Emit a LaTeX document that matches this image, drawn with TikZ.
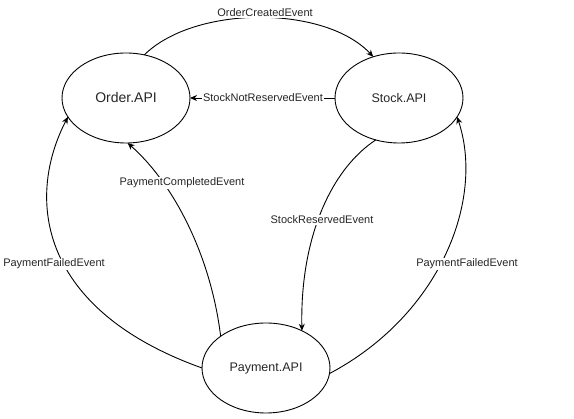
\documentclass[tikz,border=0pt]{standalone}
\usepackage{fontspec}
\setmainfont{Liberation Sans}
\usetikzlibrary{arrows.meta,shapes.geometric}
\tikzset{
  api/.style={ellipse, draw, line width=0.9pt, minimum width=128pt, minimum height=90pt, inner sep=0pt, outer sep=0pt, text=black!85},
  conn/.style={line width=0.9pt, -{Stealth[length=7pt,width=6pt]}},
  plain/.style={line width=0.9pt},
  lbl/.style={fill=white, inner sep=1pt, font=\fontsize{11}{13}\selectfont, text=black!85}
}
\begin{document}
\begin{tikzpicture}[x=1pt,y=-1pt]
\useasboundingbox (0,0) rectangle (574,419);
\node[api, font=\fontsize{14}{16}\selectfont] (o) at (126,98) {Order.API};
\node[api, font=\fontsize{12.5}{15}\selectfont] (s) at (399,98) {Stock.API};
\node[api, font=\fontsize{12.5}{15}\selectfont] (p) at (266,368) {Payment.API};

\draw[conn] (o.67) .. controls (195,5) and (325,5) .. (s.122);
\draw[conn] (s.west) -- (o.east);
\draw[conn] (p.145) .. controls (210,250) and (170,180) .. (o.-88);
\draw[conn] (s.241) .. controls (330,170) and (300,240) .. (p.46);
\draw[conn] (p.180) .. controls (40,310) and (25,200) .. (o.198);
\draw[conn] (p.-5) .. controls (440,315) and (485,200) .. (s.342);

\node[lbl] (l1) at (265,13) {OrderCreatedEvent};
\node[lbl] (l2) at (263,98) {StockNotReservedEvent};
\node[lbl] (l3) at (182,183) {PaymentCompletedEvent};
\node[lbl] (l4) at (322,220) {StockReservedEvent};
\node[lbl] (l5) at (54,264) {PaymentFailedEvent};
\node[lbl] (l6) at (467,264) {PaymentFailedEvent};
\end{tikzpicture}
\end{document}
